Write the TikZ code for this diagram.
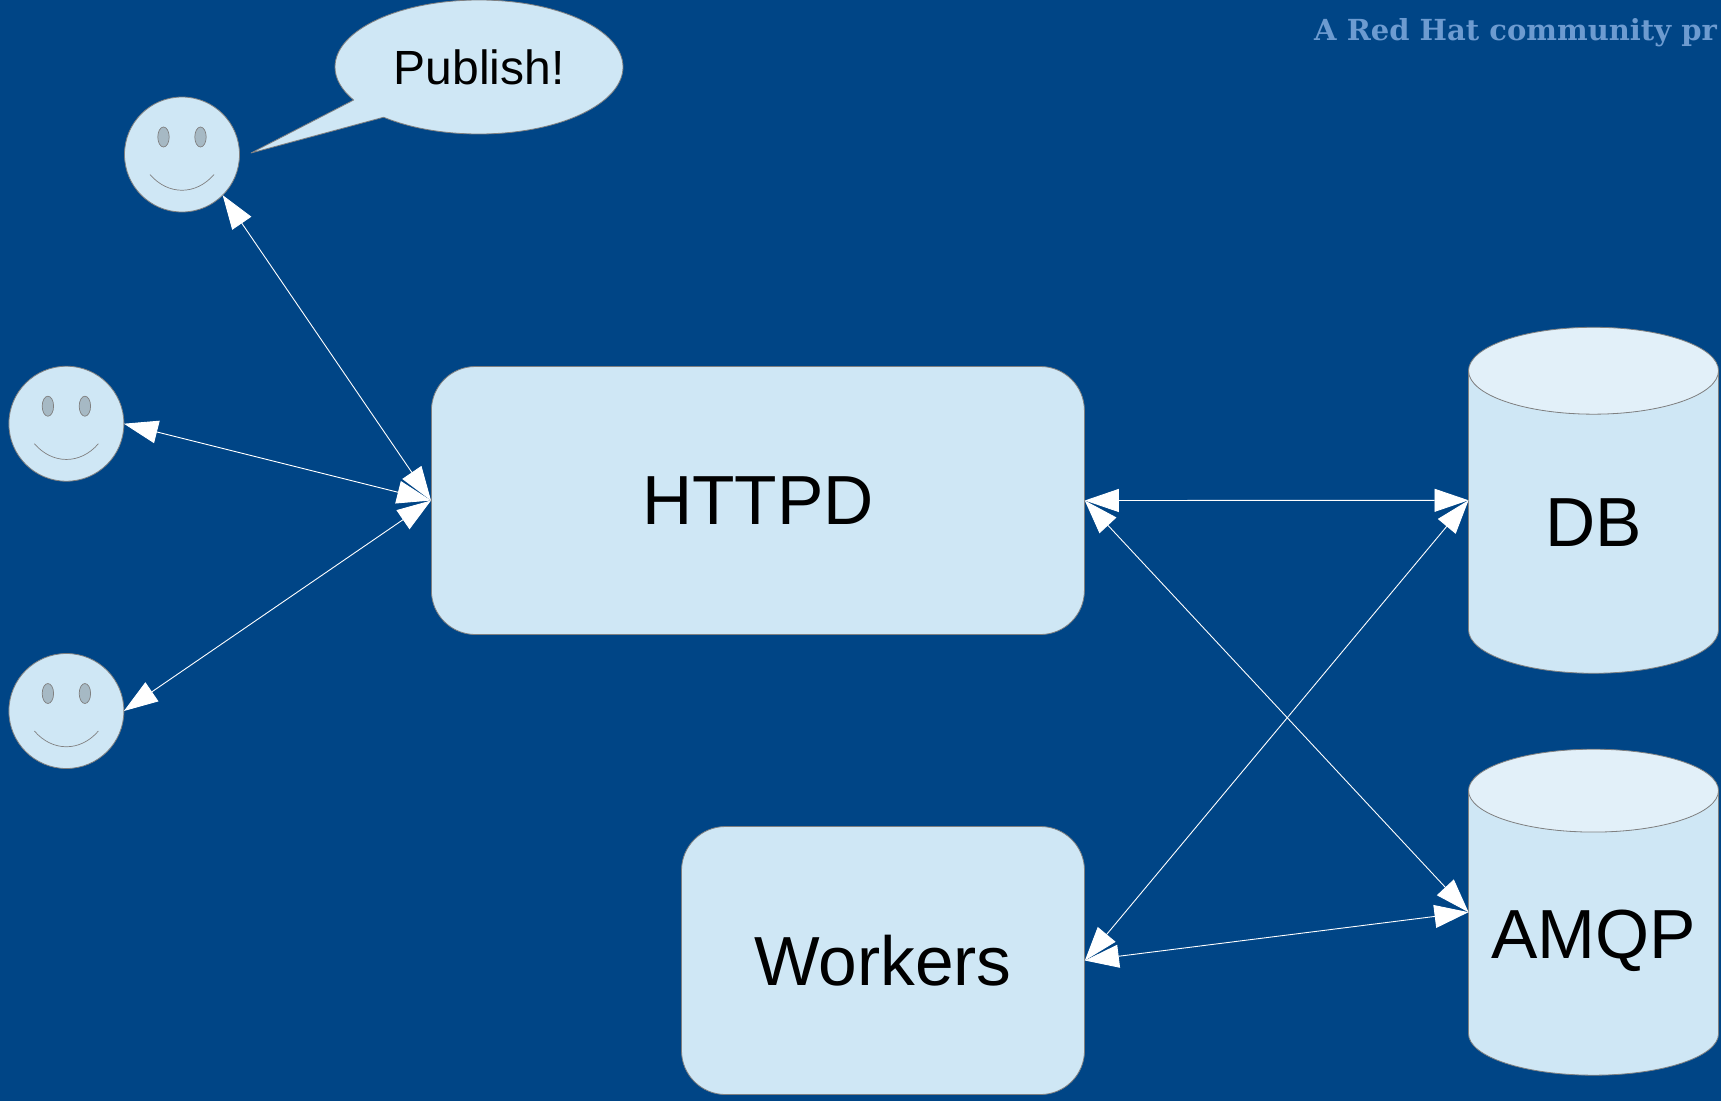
\documentclass[tikz,border=0pt]{standalone}
\usepackage{fontspec}
\setmainfont{Liberation Sans}
\newfontfamily\markfont{DejaVu Serif}
\usetikzlibrary{shapes.geometric,shapes.callouts,arrows.meta,positioning}
\definecolor{deckblue}{HTML}{004586}
\definecolor{shapefill}{HTML}{CFE7F5}
\definecolor{shapetop}{HTML}{E2F0F9}
\definecolor{shapeline}{HTML}{808080}
\definecolor{eyefill}{HTML}{A6B9C4}
\definecolor{markblue}{HTML}{6D9BD0}
\tikzset{
	bigtext/.style={font=\fontsize{69.5}{80}\selectfont, text=black},
	procbox/.style={draw=shapeline, fill=shapefill, line width=0.8pt, rounded corners=44pt, bigtext, inner sep=0pt},
	store/.style={cylinder, shape border rotate=90, draw=shapeline, line width=0.8pt, cylinder uses custom fill, cylinder end fill=shapetop, cylinder body fill=shapefill, minimum width=250pt, inner sep=0pt, outer sep=0pt, bigtext},
	face/.style={circle, draw=shapeline, fill=shapefill, line width=0.8pt, minimum size=115pt, inner sep=0pt, outer sep=0pt},
	eye/.style={draw=shapeline, fill=eyefill, line width=0.7pt},
	conn/.style={draw=white, line width=0.9pt, {Triangle[length=34pt,width=23pt,fill=white]}-{Triangle[length=34pt,width=23pt,fill=white]}}
}
\begin{document}
\begin{tikzpicture}[x=1pt,y=-1pt]
\path[use as bounding box] (0,0) rectangle (1721,1101);
\clip (0,0) rectangle (1721,1101);
\fill[deckblue] (0,0) rectangle (1721,1101);

\node[anchor=base west, inner sep=0pt, text=markblue, font=\markfont\bfseries\fontsize{29}{34}\selectfont] (brand) at (1314,40) {A Red Hat community pr};

% the three users
\foreach \name/\x/\y in {userA/182/154.5, userB/66.4/423.7, userC/66.4/711} {
	\node[face] (\name) at (\x,\y) {};
	\fill[eye] ([shift={(-18.5,-17.5)}]\name.center) ellipse [x radius=5.7, y radius=10];
	\fill[eye] ([shift={(18.5,-17.5)}]\name.center) ellipse [x radius=5.7, y radius=10];
	\draw[shapeline, line width=0.7pt] ([shift={(-32,20)}]\name.center) .. controls ([shift={(-14,41)}]\name.center) and ([shift={(14,41)}]\name.center) .. ([shift={(32,20)}]\name.center);
}

\node[ellipse callout, callout absolute pointer={(251,153)}, callout pointer arc=19, line join=round, draw=shapeline, fill=shapefill, line width=0.8pt, minimum width=288pt, minimum height=134pt, inner sep=0pt, font=\fontsize{48}{54}\selectfont] (bubble) at (479,67) {Publish!};

\node[procbox, minimum width=653pt, minimum height=268pt] (httpd) at (757.9,500.5) {HTTPD};
\node[procbox, minimum width=403pt, minimum height=268pt] (workers) at (883,960.5) {Workers};

\node[store, minimum height=346pt, aspect=0.9] (db) at (1593.5,522.2) {DB};
\node[store, minimum height=326pt, aspect=0.405, text height=63pt] (amqp) at (1593.5,933.1) {AMQP};

% the connectors meet the cylinders half way up
\coordinate (dbport) at (db.west |- db.shape center);
\coordinate (amqpport) at (amqp.west |- amqp.shape center);

\draw[conn] (userA.south east) -- (httpd.west);
\draw[conn] (userB.east) -- (httpd.west);
\draw[conn] (userC.east) -- (httpd.west);
\draw[conn] (httpd.east) -- (dbport);
\draw[conn] (httpd.east) -- (amqpport);
\draw[conn] (workers.east) -- (dbport);
\draw[conn] (workers.east) -- (amqpport);
\end{tikzpicture}
\end{document}
